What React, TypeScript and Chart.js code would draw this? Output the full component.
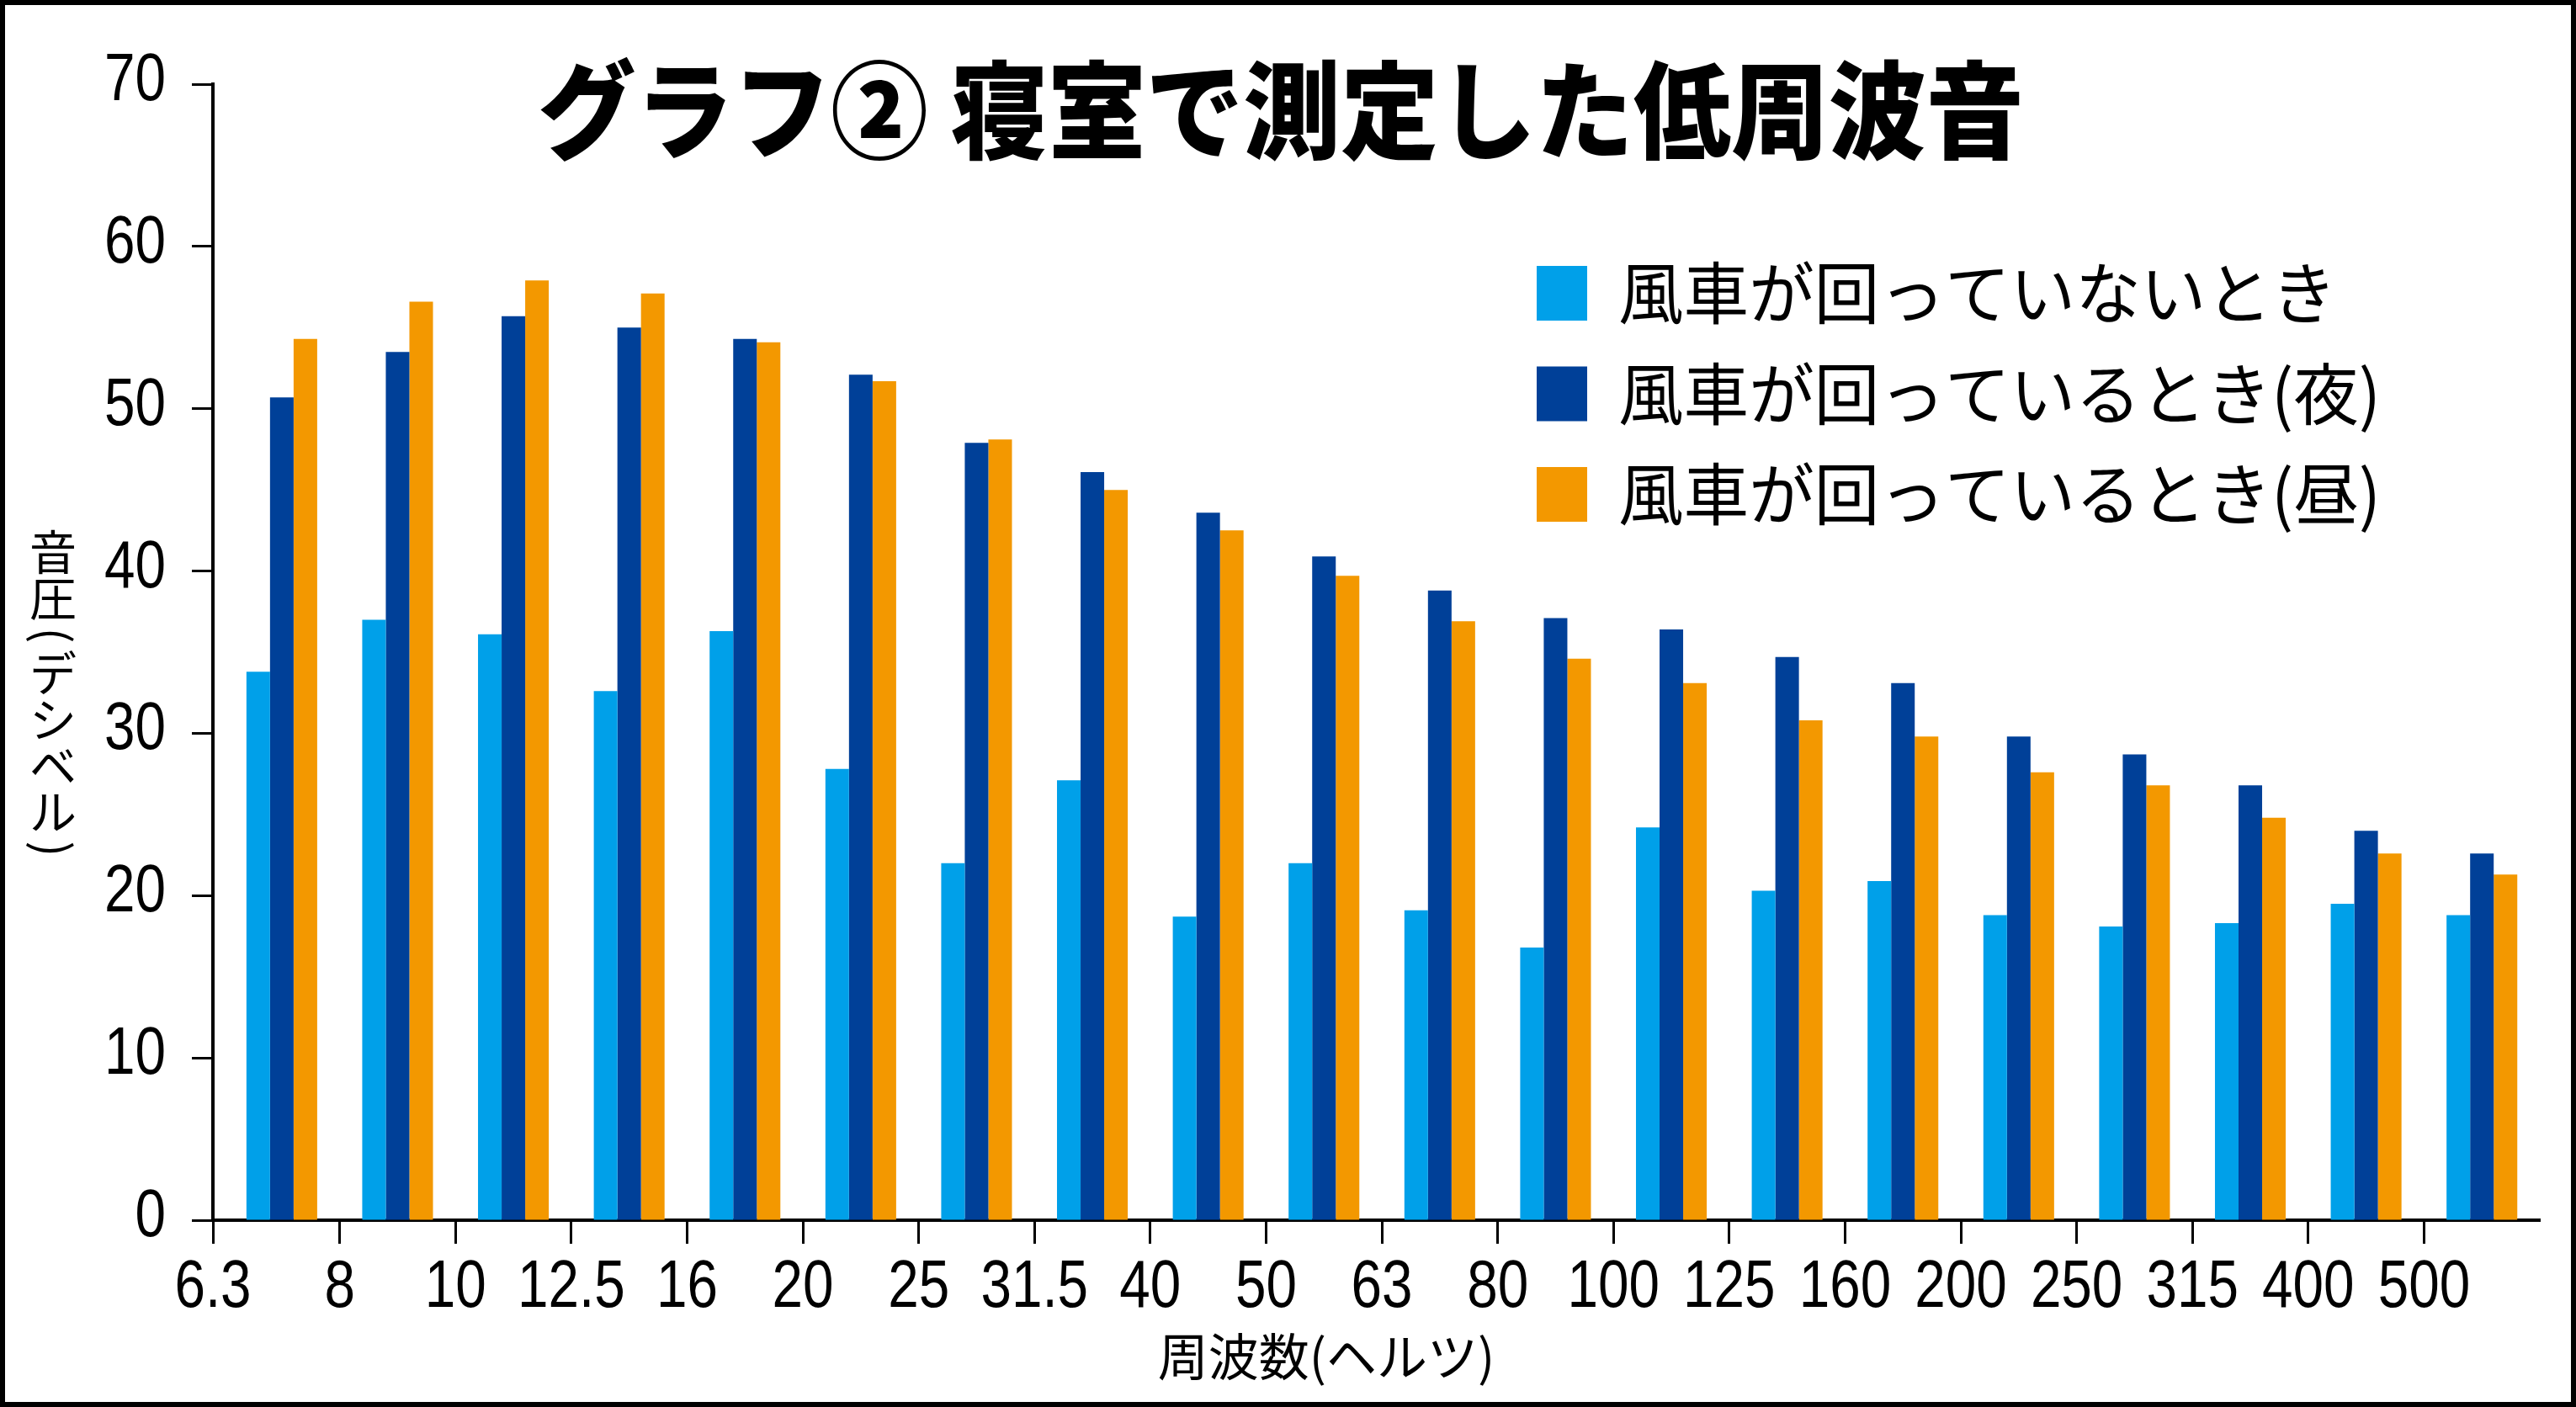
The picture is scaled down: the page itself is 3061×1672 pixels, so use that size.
import React, { useEffect, useRef } from 'react';
import { Chart, registerables } from 'chart.js';

Chart.register(...registerables);

// ---- data ----
const frequencies = ['6.3', '8', '10', '12.5', '16', '20', '25', '31.5', '40', '50', '63', '80', '100', '125', '160', '200', '250', '315', '400', '500'];
const seriesNames = ['風車が回っていないとき', '風車が回っているとき(夜)', '風車が回っているとき(昼)'];
const seriesColors = ['#00A0E9', '#004098', '#F39800'];
const notRotating = [33.8, 37.0, 36.1, 32.6, 36.3, 27.8, 22.0, 27.1, 18.7, 22.0, 19.1, 16.8, 24.2, 20.3, 20.9, 18.8, 18.1, 18.3, 19.5, 18.8];
const rotatingNight = [50.7, 53.5, 55.7, 55.0, 54.3, 52.1, 47.9, 46.1, 43.6, 40.9, 38.8, 37.1, 36.4, 34.7, 33.1, 29.8, 28.7, 26.8, 24.0, 22.6];
const rotatingDay = [54.3, 56.6, 57.9, 57.1, 54.1, 51.7, 48.1, 45.0, 42.5, 39.7, 36.9, 34.6, 33.1, 30.8, 29.8, 27.6, 26.8, 24.8, 22.6, 21.3];
const yMin = 0;
const yMax = 70;
const yStep = 10;
const titleText = 'グラフ② 寝室で測定した低周波音';
const xTitleText = '周波数(ヘルツ)';
const yTitleText = '音圧(デシベル)';

const seriesValues = [notRotating, rotatingNight, rotatingDay];

const NUM_FONT = '80px "Liberation Sans", Arial, sans-serif';
const NUM_SX = 0.82; // narrow (condensed) rendering of the numeric labels
const CJK_FONT = '"Noto Sans CJK JP", "Noto Sans CJK SC", sans-serif';

function drawScaledText(
  ctx: CanvasRenderingContext2D,
  text: string,
  x: number,
  y: number,
  font: string,
  sx: number,
  align: CanvasTextAlign,
  baseline: CanvasTextBaseline = 'middle'
) {
  ctx.save();
  ctx.font = font;
  ctx.textAlign = align;
  ctx.textBaseline = baseline;
  ctx.translate(x, y);
  ctx.scale(sx, 1);
  ctx.fillText(text, 0, 0);
  ctx.restore();
}

const decorPlugin = {
  id: 'decor',
  beforeDraw(chart: any) {
    const ctx = chart.ctx as CanvasRenderingContext2D;
    ctx.save();
    ctx.fillStyle = '#ffffff';
    ctx.fillRect(0, 0, chart.width, chart.height);
    ctx.restore();
  },
  afterDraw(chart: any) {
    const ctx = chart.ctx as CanvasRenderingContext2D;
    ctx.save();
    ctx.fillStyle = '#000';

    // tick labels (condensed numerals), placed through the scales
    const xs = chart.scales.x;
    xs.ticks.forEach((_t: any, i: number) => {
      const px = xs.getPixelForTick(i);
      drawScaledText(ctx, frequencies[i] ?? '', px, xs.top + 103, NUM_FONT, NUM_SX, 'center', 'alphabetic');
    });
    const ys = chart.scales.y;
    ys.ticks.forEach((t: any) => {
      const py = ys.getPixelForValue(t.value);
      drawScaledText(ctx, String(t.value), ys.right - 56, py + 19, NUM_FONT, NUM_SX, 'right', 'alphabetic');
    });

    // title
    drawScaledText(ctx, titleText, 1522, 131, `900 126px ${CJK_FONT}`, 0.92, 'center');
    // legend
    chart.data.datasets.forEach((ds: any, i: number) => {
      const cy = 348 + i * 119.5;
      ctx.fillStyle = ds.backgroundColor;
      ctx.fillRect(1826, cy - 32, 60, 65);
      ctx.fillStyle = '#000';
      drawScaledText(ctx, ds.label, 1923, cy, `80px ${CJK_FONT}`, 0.97, 'left');
    });
    // x title
    drawScaledText(ctx, xTitleText, 1576, 1612, `60px ${CJK_FONT}`, 1, 'center');
    // y title (vertical)
    ctx.font = `56px ${CJK_FONT}`;
    ctx.textAlign = 'center';
    ctx.textBaseline = 'middle';
    let y = 628;
    for (const ch of yTitleText) {
      const isParen = ch === '(' || ch === ')';
      const adv = isParen ? 34 : 55;
      const cy = y + adv / 2;
      ctx.save();
      ctx.translate(63, cy);
      if (isParen) ctx.rotate(Math.PI / 2);
      ctx.fillText(ch, 0, 0);
      ctx.restore();
      y += adv;
    }
    // frame
    ctx.strokeStyle = '#000';
    ctx.lineWidth = 6;
    ctx.strokeRect(3, 3, chart.width - 6, chart.height - 6);
    ctx.restore();
  },
};

export default function App() {
  const ref = useRef<HTMLCanvasElement>(null);
  useEffect(() => {
    const chart = new Chart(ref.current as HTMLCanvasElement, {
      type: 'bar',
      data: {
        datasets: seriesValues.map((vals, i) => ({
          label: seriesNames[i],
          data: vals.map((v, j) => ({ x: j + 0.5, y: v })),
          backgroundColor: seriesColors[i],
          borderWidth: 0,
          categoryPercentage: 0.611,
          barPercentage: 1.0,
        })),
      },
      options: {
        responsive: false,
        animation: false,
        devicePixelRatio: 1,
        layout: { padding: { top: 100, right: 43, left: 0, bottom: 0 } },
        plugins: {
          legend: { display: false },
          title: { display: false },
          tooltip: { enabled: false },
        },
        scales: {
          x: {
            type: 'linear',
            min: -0.095,
            max: frequencies.length,
            offset: false,
            grid: {
              offset: false,
              drawOnChartArea: false,
              drawTicks: true,
              tickLength: 28,
              tickWidth: 3,
              tickColor: '#000',
            },
            border: { display: true, color: '#000', width: 4 },
            ticks: { display: false, autoSkip: false, maxRotation: 0, minRotation: 0 },
            afterBuildTicks: (s: any) => {
              // first label sits at the axis origin, the rest on group boundaries
              s.ticks = frequencies.map((_f, i) => ({ value: i === 0 ? s.min : i }));
            },
            afterFit: (s: any) => {
              s.height = 222;
            },
          },
          y: {
            min: yMin,
            max: yMax,
            grid: {
              drawOnChartArea: false,
              drawTicks: true,
              tickLength: 25,
              tickWidth: 3,
              tickColor: '#000',
            },
            border: { display: true, color: '#000', width: 4 },
            ticks: { display: false, stepSize: yStep },
            afterFit: (s: any) => {
              s.width = 253;
            },
          },
        },
      } as any,
      plugins: [decorPlugin],
    });
    return () => chart.destroy();
  }, []);
  return (
    <div style={{ position: 'fixed', left: 0, top: 0, width: 3061, height: 1672, background: '#fff' }}>
      <canvas ref={ref} width={3061} height={1672} style={{ display: 'block', width: 3061, height: 1672 }} />
    </div>
  );
}
